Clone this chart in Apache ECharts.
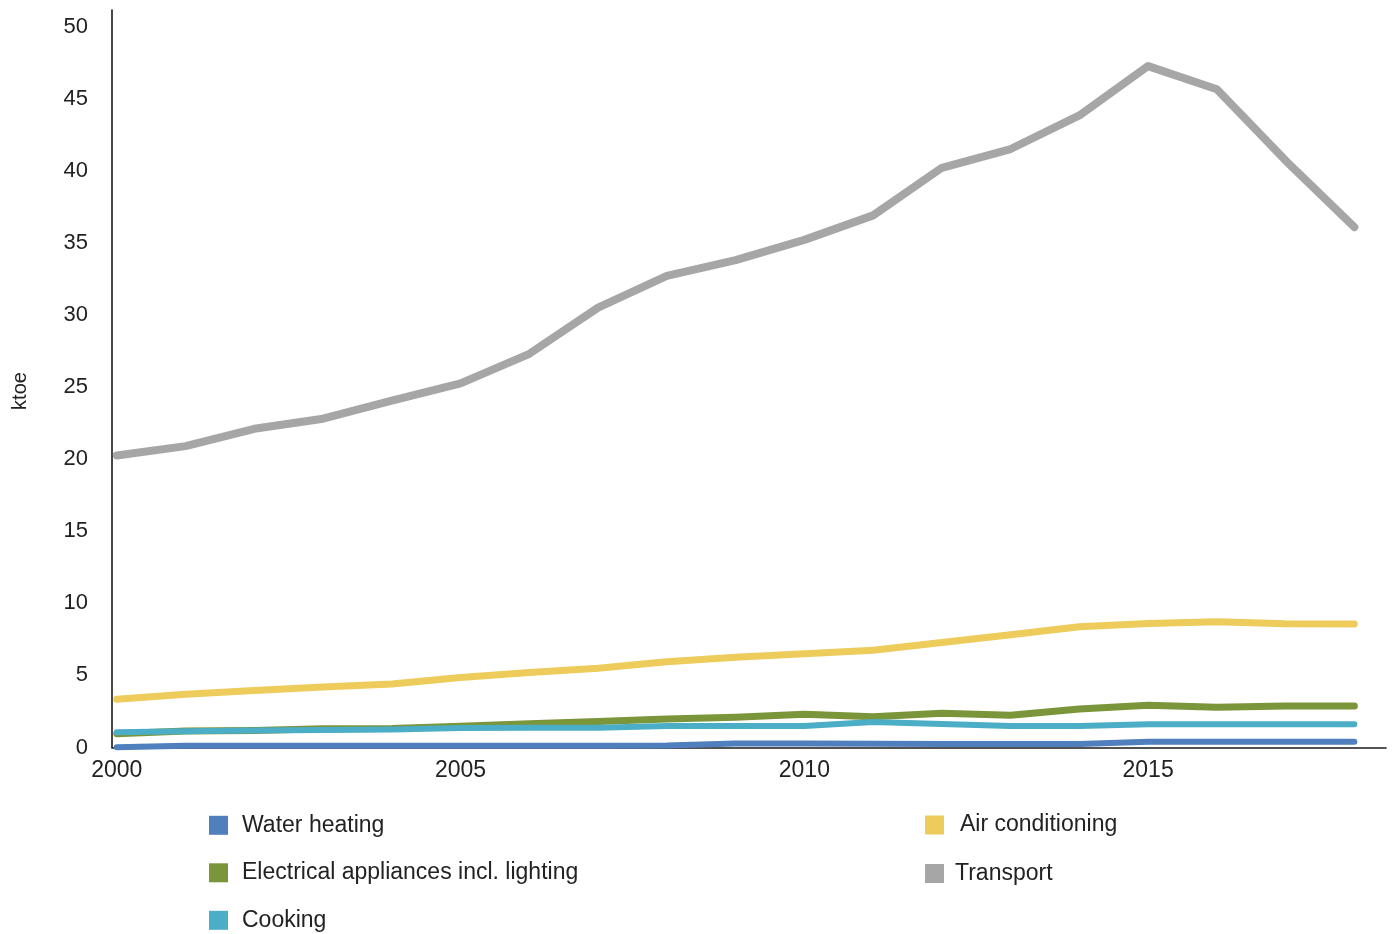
<!DOCTYPE html>
<html>
<head>
<meta charset="utf-8">
<script src="https://cdn.jsdelivr.net/npm/echarts@6/dist/echarts.min.js"></script>
<style>
  html, body { margin: 0; padding: 0; background: #fff; }
  #chart { width: 1394px; height: 934px; }
</style>
</head>
<body>
<div id="chart"></div>
<script>
// Final energy use by end use, ktoe
const years = [2000, 2001, 2002, 2003, 2004, 2005, 2006, 2007, 2008, 2009,
               2010, 2011, 2012, 2013, 2014, 2015, 2016, 2017, 2018];
const waterHeating = [0.02, 0.12, 0.13, 0.13, 0.13, 0.13, 0.13, 0.13, 0.14, 0.28,
                      0.28, 0.26, 0.25, 0.25, 0.25, 0.40, 0.40, 0.40, 0.40];
const airConditioning = [3.35, 3.70, 3.95, 4.20, 4.40, 4.85, 5.20, 5.50, 5.95, 6.25,
                         6.50, 6.75, 7.28, 7.82, 8.38, 8.60, 8.72, 8.58, 8.56];
const electrical = [0.96, 1.15, 1.18, 1.30, 1.32, 1.48, 1.65, 1.80, 1.98, 2.09,
                    2.30, 2.14, 2.37, 2.23, 2.67, 2.93, 2.79, 2.88, 2.88];
const transport = [20.25, 20.90, 22.10, 22.80, 24.05, 25.25, 27.30, 30.50, 32.70, 33.80,
                   35.20, 36.90, 40.20, 41.50, 43.83, 47.25, 45.65, 40.70, 36.08];
const cooking = [1.05, 1.12, 1.18, 1.22, 1.24, 1.35, 1.37, 1.37, 1.49, 1.49,
                 1.49, 1.77, 1.63, 1.49, 1.49, 1.61, 1.61, 1.62, 1.62];
const yTicks = [0, 5, 10, 15, 20, 25, 30, 35, 40, 45, 50];
const xTicks = [2000, 2005, 2010, 2015];

const seriesDefs = [
  { name: 'Water heating', values: waterHeating, color: '#4f7fbd', width: 6 },
  { name: 'Air conditioning', values: airConditioning, color: '#edcc5c', width: 7 },
  { name: 'Electrical appliances incl. lighting', values: electrical, color: '#7a953a', width: 7 },
  { name: 'Transport', values: transport, color: '#a6a6a6', width: 8 },
  { name: 'Cooking', values: cooking, color: '#4badc6', width: 6 }
];

const font = 'Liberation Sans, Arial, Helvetica, sans-serif';
const textColor = '#222';

const chart = echarts.init(document.getElementById('chart'));
chart.setOption({
  animation: false,
  backgroundColor: '#fff',
  grid: { left: 112, right: 8, top: 10, bottom: 186.5, containLabel: false },
  xAxis: {
    type: 'value',
    min: 1999.93,
    max: 2018.46,
    axisLine: { show: true, lineStyle: { color: '#1a1a1a', width: 1.6 } },
    axisTick: { show: false },
    splitLine: { show: false },
    axisLabel: {
      customValues: xTicks,
      margin: 12,
      color: textColor,
      fontFamily: font,
      fontSize: 23,
      formatter: v => String(v)
    }
  },
  yAxis: {
    type: 'value',
    min: 0,
    max: 51.14,
    axisLine: { show: true, lineStyle: { color: '#1a1a1a', width: 1.6 } },
    axisTick: { show: false },
    splitLine: { show: false },
    axisLabel: {
      customValues: yTicks,
      margin: 24,
      color: textColor,
      fontFamily: font,
      fontSize: 22
    }
  },
  graphic: [{
    type: 'text',
    x: 20,
    y: 391,
    rotation: Math.PI / 2,
    style: {
      text: 'ktoe',
      fill: textColor,
      font: '20px ' + font,
      align: 'center',
      verticalAlign: 'middle'
    }
  }],
  legend: [{
    orient: 'vertical',
    left: 209,
    top: 813.3,
    padding: 0,
    itemWidth: 19,
    itemHeight: 19,
    itemGap: 23.5,
    icon: 'rect',
    data: ['Water heating', 'Electrical appliances incl. lighting', 'Cooking'],
    textStyle: { color: textColor, fontFamily: font, fontSize: 23, lineHeight: 24, padding: [0, 0, 0, 9] }
  }, {
    orient: 'vertical',
    left: 925,
    top: 813,
    padding: 0,
    itemWidth: 19,
    itemHeight: 19,
    itemGap: 24.5,
    icon: 'rect',
    data: [
      { name: 'Air conditioning', textStyle: { padding: [0, 0, 0, 11] } },
      { name: 'Transport', textStyle: { padding: [0, 0, 0, 6] } }
    ],
    textStyle: { color: textColor, fontFamily: font, fontSize: 23, lineHeight: 24 }
  }],
  series: seriesDefs.map(s => ({
    name: s.name,
    type: 'line',
    data: years.map((y, i) => [y, s.values[i]]),
    showSymbol: false,
    symbol: 'none',
    color: s.color,
    lineStyle: { color: s.color, width: s.width, cap: 'round', join: 'round' },
    emphasis: { disabled: true },
    clip: false
  }))
});
</script>
</body>
</html>
